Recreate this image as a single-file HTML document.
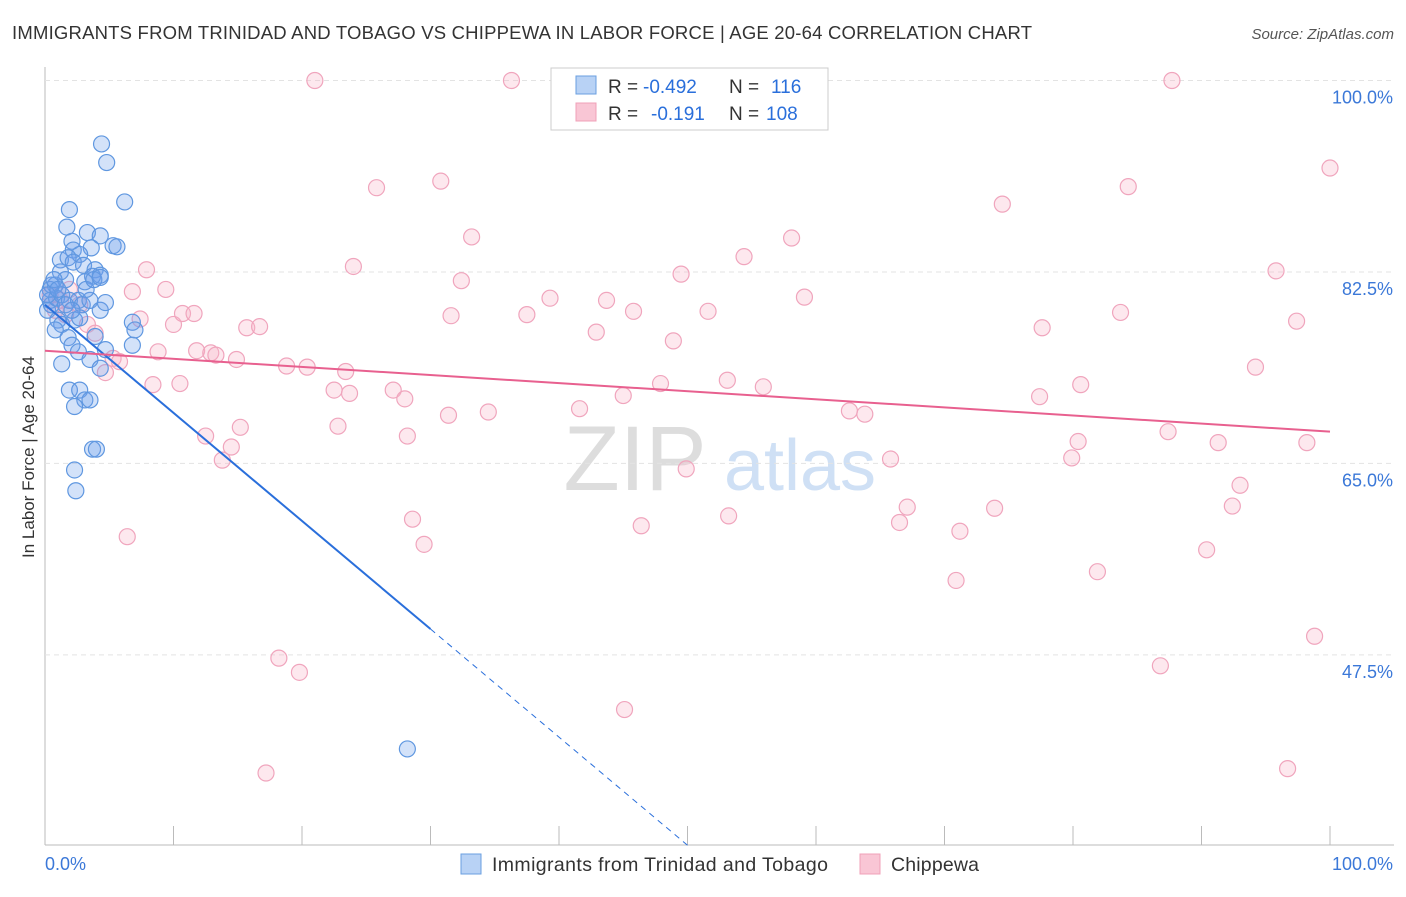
<!DOCTYPE html>
<html><head><meta charset="utf-8"><style>
body{margin:0;background:#fff;font-family:"Liberation Sans",sans-serif}
svg text{font-family:"Liberation Sans",sans-serif}
</style></head><body>
<svg id="c" width="1406" height="892">
<text x="12" y="39" font-size="18.5" fill="#333" textLength="1020">IMMIGRANTS FROM TRINIDAD AND TOBAGO VS CHIPPEWA IN LABOR FORCE | AGE 20-64 CORRELATION CHART</text>
<text x="1394" y="39" font-size="15" fill="#555" font-style="italic" text-anchor="end">Source: ZipAtlas.com</text>
<text x="0" y="0" transform="translate(34,457) rotate(-90)" font-size="17" fill="#333" text-anchor="middle">In Labor Force | Age 20-64</text>
<g><text x="635" y="490" font-size="92" fill="#ddd" font-family="Liberation Serif" text-anchor="middle">ZIP</text><text x="800" y="490" font-size="72" fill="#cfe0f5" text-anchor="middle">atlas</text></g>
<g id="grid"></g><g id="pts"></g><g id="lines"></g>
<g>
<rect x="551" y="68" width="277" height="62" fill="#fff" stroke="#ccc"/>
<rect x="576" y="76" width="20" height="18" fill="#b8d2f5" stroke="#6a9fe0"/>
<rect x="576" y="103" width="20" height="18" fill="#f9c6d5" stroke="#f0a0b8"/>
<text x="608" y="93" font-size="19" fill="#333">R =</text>
<text x="643" y="93" font-size="19" fill="#2a6fdb">-0.492</text>
<text x="729" y="93" font-size="19" fill="#333">N =</text>
<text x="771" y="93" font-size="19" fill="#2a6fdb">116</text>
<text x="608" y="120" font-size="19" fill="#333">R =</text>
<text x="651" y="120" font-size="19" fill="#2a6fdb">-0.191</text>
<text x="729" y="120" font-size="19" fill="#333">N =</text>
<text x="766" y="120" font-size="19" fill="#2a6fdb">108</text>
</g>
<g>
<rect x="461" y="854" width="20" height="20" fill="#b8d2f5" stroke="#6a9fe0"/>
<text x="492" y="871" font-size="19.5" fill="#333" textLength="336">Immigrants from Trinidad and Tobago</text>
<rect x="860" y="854" width="20" height="20" fill="#f9c6d5" stroke="#f0a0b8"/>
<text x="891" y="871" font-size="19.5" fill="#333" textLength="88">Chippewa</text>
</g>
</svg>
<script>
const yTicks=[100,82.5,65,47.5];
const yTickLabels=["100.0%","82.5%","65.0%","47.5%"];
const xEndLabels=["0.0%","100.0%"];
const pinkX=[21,36.3,87.7,100,25.8,30.8,84.3,74.5,33.2,58.1,54.4,24,7.9,49.5,95.8,32.4,9.4,6.8,39.3,43.7,59.1,31.6,37.5,45.8,51.6,83.7,97.4,7.4,10,10.7,11.6,15.7,16.7,42.9,77.6,48.9,8.8,11.8,12.9,13.3,14.9,5.3,5.8,4.7,18.8,20.4,23.4,94.2,53.1,8.4,10.5,47.9,55.9,22.5,23.7,27.1,28,45,80.6,77.4,62.6,63.8,41.6,31.4,34.5,22.8,15.2,12.5,28.2,87.4,80.4,91.3,98.2,14.5,13.8,79.9,65.8,49.9,93,67.1,73.9,92.4,28.6,53.2,46.4,66.5,71.2,29.5,90.4,81.9,70.9,6.4,98.8,18.2,19.8,86.8,45.1,17.2,96.7,3.3,3.9,0.8,1.2,1.9,2.7,0.4,1.6];
const pinkY=[100,100,100,92,90.2,90.8,90.3,88.7,85.7,85.6,83.9,83,82.7,82.3,82.6,81.7,80.9,80.7,80.1,79.9,80.2,78.5,78.6,78.9,78.9,78.8,78,78.2,77.7,78.7,78.7,77.4,77.5,77,77.4,76.2,75.2,75.3,75.1,74.9,74.5,74.6,74.3,73.3,73.9,73.8,73.4,73.8,72.6,72.2,72.3,72.3,72,71.7,71.4,71.7,70.9,71.2,72.2,71.1,69.8,69.5,70,69.4,69.7,68.4,68.3,67.5,67.5,67.9,67,66.9,66.9,66.5,65.3,65.5,65.4,64.5,63,61,60.9,61.1,59.9,60.2,59.3,59.6,58.8,57.6,57.1,55.1,54.3,58.3,49.2,47.2,45.9,46.5,42.5,36.7,37.1,77.7,76.9,79,79.9,80.9,79.5,80.4,78.6];
const blueX=[4.4,4.8,6.2,1.9,1.7,2.1,3.3,4.3,5.3,5.6,2.2,3.6,2.7,1.2,1.8,2.2,3,3.9,4.3,3.7,3.1,1.2,1.6,0.8,0.4,0.4,0.2,0.5,0.9,1.3,1.9,2.6,2.9,3.5,4.3,4.7,1,1.3,0.8,2.3,2.7,1.8,2.1,2.6,3.9,1.3,3.5,4.3,4.7,6.8,7,6.8,1.9,2.7,3.1,3.5,2.3,3.7,4,2.3,2.4,0.5,0.2,0.7,1,1.6,2.1,3.2,3.8,4.3,28.2];
const blueY=[94.2,92.5,88.9,88.2,86.6,85.3,86.1,85.8,84.9,84.8,84.5,84.7,84.1,83.6,83.8,83.4,83.1,82.7,82.2,82.1,81.6,82.5,81.8,81.3,80.9,79.9,79,79.5,80.1,80.4,79.9,79.9,79.5,79.9,79,79.7,78.1,77.7,77.2,78.1,78.3,76.5,75.8,75.2,76.6,74.1,74.5,73.7,75.4,77.9,77.2,75.8,71.7,71.7,70.8,70.8,70.2,66.3,66.3,64.4,62.5,81.3,80.4,81.8,80.9,79.5,79,80.9,81.8,82,38.9];
const blueTrend=[79.5,-0.988];
const pinkTrend=[75.3,-0.074];
const X=v=>45+v*12.85, Y=v=>80.5+(100-v)*10.94;
const NS='http://www.w3.org/2000/svg';
function mk(p,t,a){const e=document.createElementNS(NS,t);for(const k in a)e.setAttribute(k,a[k]);p.appendChild(e);return e;}
const g=document.getElementById('grid');
const ax=mk(g,'line',{x1:45,y1:67,x2:45,y2:845,stroke:'#bbb'});


const bx=mk(g,'line',{x1:45,y1:845,x2:1394,y2:845,stroke:'#bbb'});


for(let i=0;i<=10;i++){const t=mk(g,'line',{x1:X(i*10),y1:826,x2:X(i*10),y2:845,stroke:'#bbb'});

}
yTicks.forEach((v,i)=>{const l=mk(g,'line',{x1:45,y1:Y(v),x2:1394,y2:Y(v),stroke:'#e3e3e3','stroke-dasharray':'5,4'});


const t=mk(g,'text',{x:1393,y:Y(v)+23,'font-size':18,fill:'#3b78d8','text-anchor':'end'});t.textContent=yTickLabels[i];

});
xEndLabels.forEach((s,i)=>{const t=mk(g,'text',{x:i?1393:45,y:870,'font-size':18,fill:'#3b78d8','text-anchor':i?'end':'start'});t.textContent=s;

});
const P=document.getElementById('pts');
pinkX.forEach((x,i)=>{const c=mk(P,'circle',{cx:X(x),cy:Y(pinkY[i]),r:8,fill:'rgba(248,180,200,0.3)',stroke:'#f0a5bd','stroke-width':1.2});

});
blueX.forEach((x,i)=>{const c=mk(P,'circle',{cx:X(x),cy:Y(blueY[i]),r:8,fill:'rgba(110,160,235,0.3)',stroke:'#5f97e0','stroke-width':1.2});

});
const L=document.getElementById('lines');
const bEnd=(30.1-blueTrend[0])/blueTrend[1];
const b1=mk(L,'line',{x1:X(0),y1:Y(blueTrend[0]),x2:X(30),y2:Y(blueTrend[0]+blueTrend[1]*30),stroke:'#2a6fdb','stroke-width':2});


const b2=mk(L,'line',{x1:X(30),y1:Y(blueTrend[0]+blueTrend[1]*30),x2:X(bEnd),y2:Y(30.1),stroke:'#2a6fdb','stroke-width':1,'stroke-dasharray':'6,5'});


const p1=mk(L,'line',{x1:X(0),y1:Y(pinkTrend[0]),x2:X(100),y2:Y(pinkTrend[0]+pinkTrend[1]*100),stroke:'#e8608f','stroke-width':2});


</script>
</body></html>
